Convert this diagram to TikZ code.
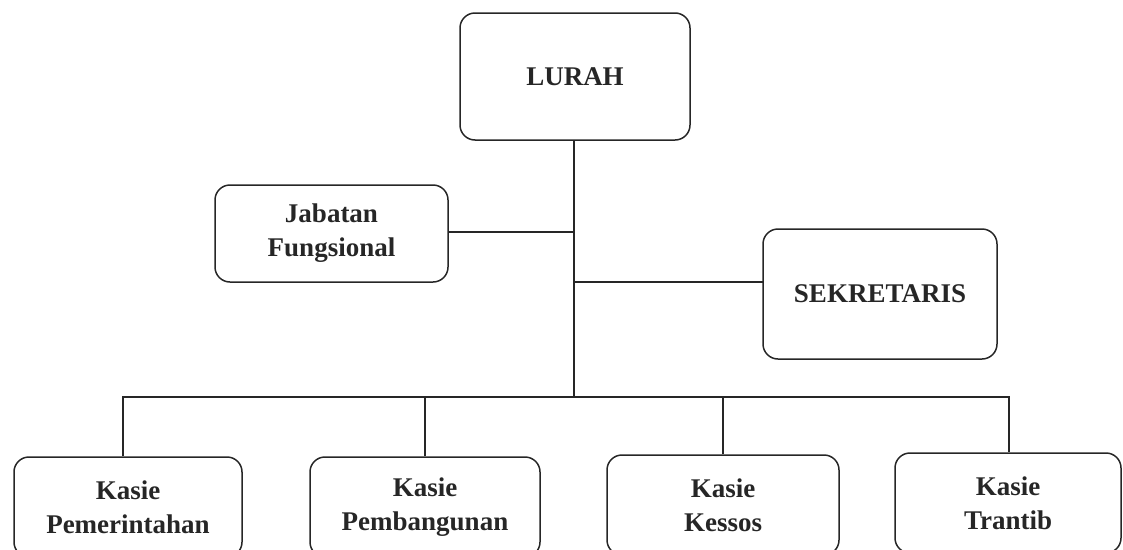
\documentclass[tikz,border=0pt]{standalone}
\usepackage{fontspec}
\setmainfont{Liberation Serif}
\begin{document}
\begin{tikzpicture}[x=1pt,y=-1pt,
  box/.style={draw=black!85, line width=1.5pt, rounded corners=15pt, align=center,
    font=\fontsize{27}{34}\selectfont\bfseries, text=black!85, inner sep=0pt},
  link/.style={draw=black!85, line width=1.5pt}]
\useasboundingbox (0,0) rectangle (1123,549);
\clip (0,0) rectangle (1123,549);
\node[box, minimum width=230pt, minimum height=127pt] (lurah) at (575,76.5) {LURAH};
\node[box, minimum width=233pt, minimum height=97pt] (jab) at (331.5,233.5) {Jabatan\\Fungsional};
\node[box, minimum width=234pt, minimum height=130pt] (sek) at (880,294) {SEKRETARIS};
\node[box, minimum width=228pt, minimum height=100pt] (k1) at (128,507) {Kasie\\Pemerintahan};
\node[box, minimum width=230pt, minimum height=100pt] (k2) at (425,507) {Kasie\\Pembangunan};
\node[box, minimum width=232pt, minimum height=100pt] (k3) at (723,505) {Kasie\\Kessos};
\node[box, minimum width=226pt, minimum height=100pt] (k4) at (1008,503) {Kasie\\Trantib};
\coordinate (bus) at (574,397);
\coordinate (jabc) at (448,232);
\coordinate (sekc) at (763,282);
\coordinate (d1) at (123,397);
\coordinate (d4) at (1009,397);
\draw[link] (bus |- lurah.south) -- (bus);
\draw[link] (jabc) -- (jabc -| bus);
\draw[link] (sekc) -- (sekc -| bus);
\draw[link] (d1 |- k1.north) -- (d1) -- (d4) -- (d4 |- k4.north);
\draw[link] (k2.north) -- (k2.north |- bus);
\draw[link] (k3.north) -- (k3.north |- bus);
\end{tikzpicture}
\end{document}
